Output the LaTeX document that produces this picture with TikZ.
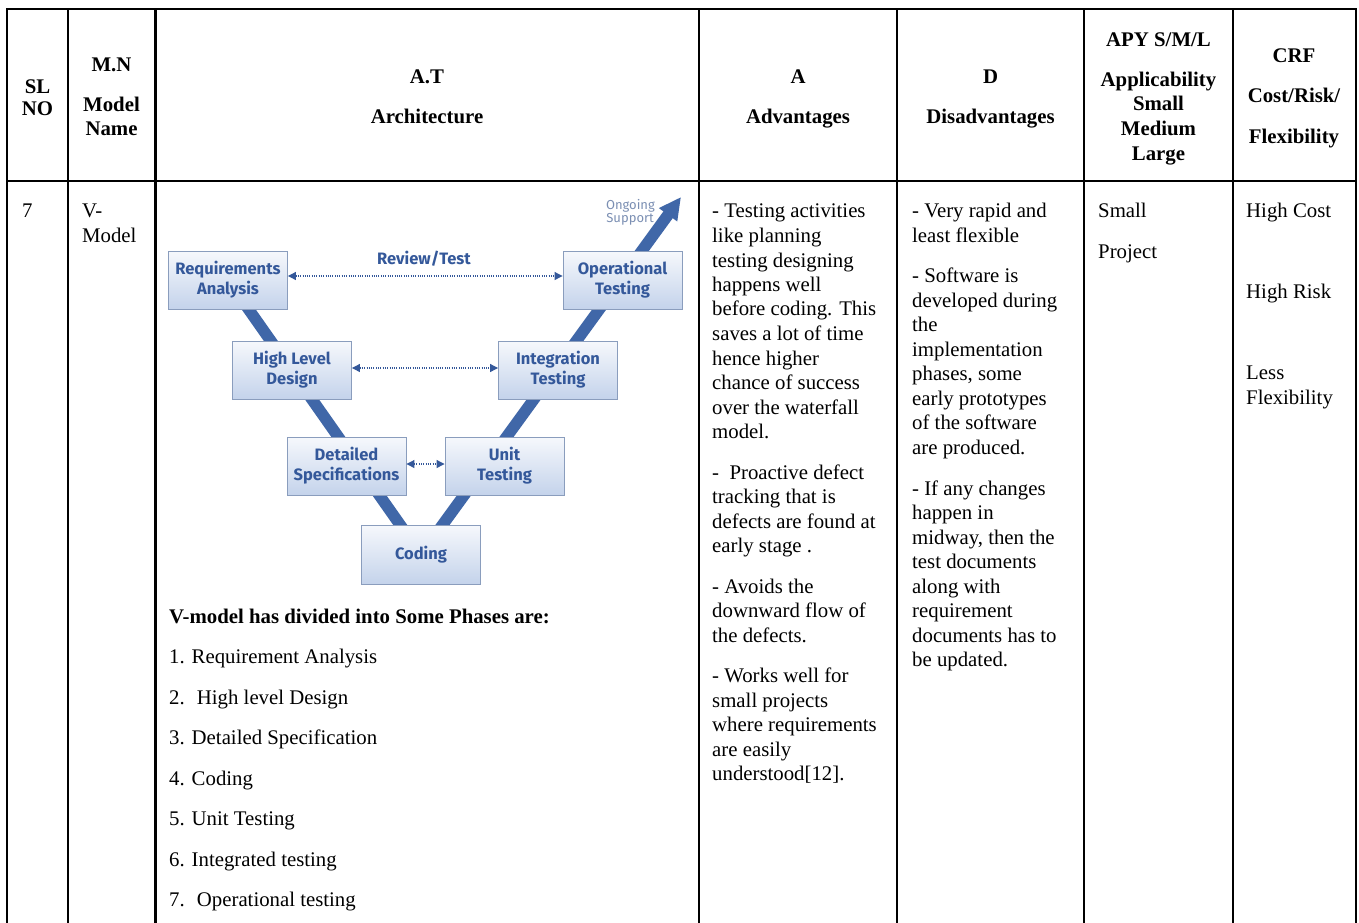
\documentclass[tikz,border=0pt]{standalone}
\usepackage{fontspec}
\setmainfont{Liberation Serif}
\newfontfamily\vmfont{Fira Sans}
\usetikzlibrary{arrows.meta,backgrounds}
\definecolor{vblue}{HTML}{4067A8}
\definecolor{vtext}{HTML}{34589A}
\definecolor{vborder}{HTML}{8A9DBD}
\definecolor{vtop}{HTML}{F6F8FC}
\definecolor{vbot}{HTML}{C4D3EB}
\definecolor{vgray}{HTML}{7B8FB3}
\begin{document}
\begin{tikzpicture}[x=1pt,y=-1pt,
  grid/.style={line width=2.4pt, black, line join=miter},
  hdr/.style={font=\fontsize{20.8}{24.5}\selectfont\bfseries, anchor=base, inner sep=0},
  body/.style={font=\fontsize{20.8}{24.5}\selectfont, anchor=base west, inner sep=0},
  vbox/.style={draw=vborder, line width=0.9pt, top color=vtop, bottom color=vbot,
    minimum width=119pt, minimum height=58pt, inner sep=0, align=center,
    font=\vmfont\bfseries\fontsize{16.5}{20}\selectfont, text=vtext},
  vline/.style={draw=vblue, line width=11.5pt},
  darr/.style={draw=vtext, line width=1.1pt, dash pattern=on 1pt off 1.3pt,
    {Triangle[length=8pt,width=8pt]}-{Triangle[length=8pt,width=8pt]}},
]
\useasboundingbox (0,0) rectangle (1359,922);

% table grid
\draw[grid] (7,923) -- (7,9) -- (1356,9) -- (1356,923);
\draw[grid] (7,181) -- (1356,181);
\foreach \x in {68,155.5,699,897,1084,1233} \draw[grid] (\x,9) -- (\x,923);

% headers
\node[hdr] (hsl1) at (37.5,93) {SL};
\node[hdr] (hsl2) at (37.5,115) {NO};
\node[hdr] (hmn1) at (111.5,71) {M.N};
\node[hdr] (hmn2) at (111.5,111) {Model};
\node[hdr] (hmn3) at (111.5,135) {Name};
\node[hdr] (hat1) at (427,83) {A.T};
\node[hdr] (hat2) at (427,123) {Architecture};
\node[hdr] (ha1) at (798,83) {A};
\node[hdr] (ha2) at (798,123) {Advantages};
\node[hdr] (hd1) at (990.5,83) {D};
\node[hdr] (hd2) at (990.5,123) {Disadvantages};
\node[hdr] (hap1) at (1158.5,46) {APY S/M/L};
\node[hdr] (hap2) at (1158.5,86) {Applicability};
\node[hdr] (hap3) at (1158.5,110) {Small};
\node[hdr] (hap4) at (1158.5,135) {Medium};
\node[hdr] (hap5) at (1158.5,160) {Large};
\node[hdr] (hc1) at (1294,62) {CRF};
\node[hdr] (hc2) at (1294,102) {Cost/Risk/};
\node[hdr] (hc3) at (1294,143) {Flexibility};

% body: first columns
\node[body] (sl) at (22,217) {7};
\node[body] (mn1) at (82,217) {V-};
\node[body] (mn2) at (82,242) {Model};

% advantages
\foreach \y/\t [count=\i] in {217/{- Testing activities},242/{like planning},267/{testing designing},
  291/{happens well},315/{before coding. This},340/{saves a lot of time},365/{hence higher},
  389/{chance of success},414/{over the waterfall},438/{model.},
  479/{-~ Proactive defect},503/{tracking that is},528/{defects are found at},552/{early stage .},
  593/{- Avoids the},617/{downward flow of},642/{the defects.},
  682/{- Works well for},707/{small projects},731/{where requirements},756/{are easily},780/{understood[12].}}
  \node[body] (adv\i) at (712,\y) {\t};

% disadvantages
\foreach \y/\t [count=\i] in {217/{- Very rapid and},242/{least flexible},
  282/{- Software is},307/{developed during},331/{the},356/{implementation},380/{phases, some},
  405/{early prototypes},429/{of the software},454/{are produced.},
  495/{- If any changes},519/{happen in},544/{midway, then the},568/{test documents},
  593/{along with},617/{requirement},642/{documents has to},666/{be updated.}}
  \node[body] (dis\i) at (912,\y) {\t};

% applicability
\node[body] (apy1) at (1098,217) {Small};
\node[body] (apy2) at (1098,258) {Project};

% cost risk flexibility
\node[body] (crf1) at (1246,217) {High Cost};
\node[body] (crf2) at (1246,298) {High Risk};
\node[body] (crf3) at (1246,379) {Less};
\node[body] (crf4) at (1246,404) {Flexibility};

% architecture list
\node[body, font=\fontsize{20.8}{24.5}\selectfont\bfseries] (ph0) at (169,623) {V-model has divided into Some Phases are:};
\foreach \y/\t [count=\i] in {663/{1. Requirement Analysis},704/{2.~ High level Design},
  744/{3. Detailed Specification},785/{4. Coding},825/{5. Unit Testing},
  866/{6. Integrated testing},906/{7.~ Operational testing}}
  \node[body] (ph\i) at (169,\y) {\t};

% V-model diagram
\node[vbox] (req) at (228,280) {Requirements\\Analysis};
\node[vbox] (ops) at (622.5,280) {Operational\\Testing};
\node[vbox] (hld) at (292,370) {High Level\\Design};
\node[vbox] (itg) at (558,370) {Integration\\Testing};
\node[vbox] (dsp) at (346.5,466) {Detailed\\Specifications};
\node[vbox] (unt) at (504.5,466) {Unit\\Testing};
\node[vbox, minimum height=59pt] (cod) at (421,554.5) {Coding};
\coordinate (tip) at (681,197);

\begin{pgfonlayer}{background}
\fill[white] (0,0) rectangle (1359,922);
\draw[vline, -{Triangle[length=22pt,width=21pt]}] (req.center) -- (cod.center) -- (tip);
\end{pgfonlayer}

\draw[darr] ([yshift=4pt]req.east) -- ([yshift=4pt]ops.west);
\draw[darr] ([yshift=2pt]hld.east) -- ([yshift=2pt]itg.west);
\draw[darr] ([yshift=2pt]dsp.east) -- ([yshift=2pt]unt.west);

\node[font=\vmfont\bfseries\fontsize{16.5}{20}\selectfont, text=vtext, inner sep=0] (rev) at (424,259) {Review/Test};
\node[font=\vmfont\fontsize{13}{13}\selectfont, text=vgray, anchor=base east, inner sep=0] (og1) at (655,209) {Ongoing};
\node[font=\vmfont\fontsize{13}{13}\selectfont, text=vgray, anchor=base east, inner sep=0] (og2) at (654,222) {Support};
\end{tikzpicture}
\end{document}
